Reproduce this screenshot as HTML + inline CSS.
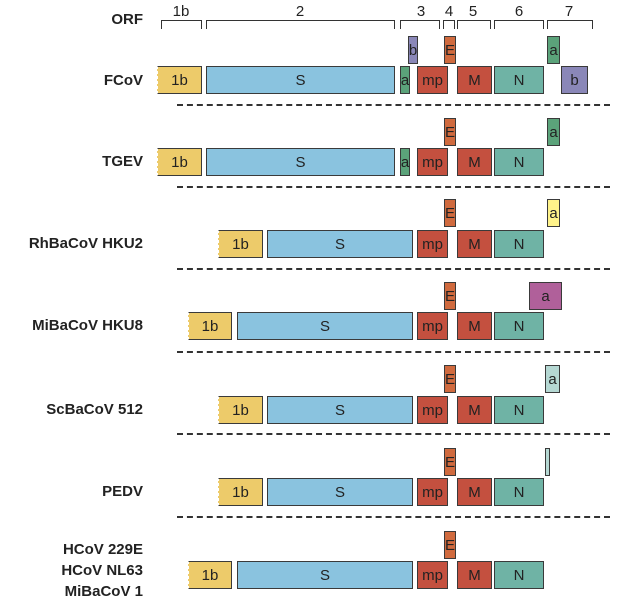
<!DOCTYPE html>
<html><head><meta charset="utf-8"><style>
body{margin:0;width:637px;height:610px;background:#fff;position:relative;overflow:hidden;font-family:"Liberation Sans",Arial,sans-serif}
.b{position:absolute;box-sizing:border-box;border:1.3px solid #3a3a3a;height:28px;font-size:15px;color:#222;display:flex;align-items:center;justify-content:center}
.y{background:#EDCB6A;border-left:1.3px dashed #fff}
.s{background:#8AC3DF}.g{background:#5BA37A}.r{background:#C4503F}.e{background:#D06A3E}.n{background:#6FB3A5}.p{background:#8A87B8}
.l{position:absolute;right:494px;font-weight:bold;font-size:15px;color:#222;text-align:right;white-space:nowrap}
.d{position:absolute;left:177px;width:433px;height:0;border-top:2px dashed #333}
.k{position:absolute;top:20px;height:9px;border:1.6px solid #333;border-bottom:none;box-sizing:border-box}
.t{position:absolute;top:3px;font-size:15px;color:#222;transform:translateX(-50%)}
</style></head><body>
<div class="l" style="top:11px">ORF</div>
<div class="k" style="left:161px;width:41px"></div><div class="t" style="left:181px">1b</div>
<div class="k" style="left:206px;width:189px"></div><div class="t" style="left:300px">2</div>
<div class="k" style="left:400px;width:40px"></div><div class="t" style="left:421px">3</div>
<div class="k" style="left:443px;width:12px"></div><div class="t" style="left:449px">4</div>
<div class="k" style="left:457px;width:34px"></div><div class="t" style="left:473px">5</div>
<div class="k" style="left:494px;width:50px"></div><div class="t" style="left:519px">6</div>
<div class="k" style="left:547px;width:46px"></div><div class="t" style="left:569px">7</div>

<div class="l" style="top:72px">FCoV</div>
<div class="b p" style="left:408px;top:36px;width:10px">b</div>
<div class="b e" style="left:444px;top:36px;width:12px">E</div>
<div class="b g" style="left:547px;top:36px;width:13px">a</div>
<div class="b y" style="left:157px;top:66px;width:45px">1b</div>
<div class="b s" style="left:206px;top:66px;width:189px">S</div>
<div class="b g" style="left:400px;top:66px;width:10px">a</div>
<div class="b r" style="left:417px;top:66px;width:31px">mp</div>
<div class="b r" style="left:457px;top:66px;width:35px">M</div>
<div class="b n" style="left:494px;top:66px;width:50px">N</div>
<div class="b p" style="left:561px;top:66px;width:27px">b</div>
<div class="d" style="top:104px"></div>

<div class="l" style="top:153px">TGEV</div>
<div class="b e" style="left:444px;top:118px;width:12px">E</div>
<div class="b g" style="left:547px;top:118px;width:13px">a</div>
<div class="b y" style="left:157px;top:148px;width:45px">1b</div>
<div class="b s" style="left:206px;top:148px;width:189px">S</div>
<div class="b g" style="left:400px;top:148px;width:10px">a</div>
<div class="b r" style="left:417px;top:148px;width:31px">mp</div>
<div class="b r" style="left:457px;top:148px;width:35px">M</div>
<div class="b n" style="left:494px;top:148px;width:50px">N</div>
<div class="d" style="top:186px"></div>

<div class="l" style="top:235px">RhBaCoV HKU2</div>
<div class="b e" style="left:444px;top:199px;width:12px">E</div>
<div class="b" style="left:547px;top:199px;width:13px;background:#FFF38A">a</div>
<div class="b y" style="left:218px;top:230px;width:45px">1b</div>
<div class="b s" style="left:267px;top:230px;width:146px">S</div>
<div class="b r" style="left:417px;top:230px;width:31px">mp</div>
<div class="b r" style="left:457px;top:230px;width:35px">M</div>
<div class="b n" style="left:494px;top:230px;width:50px">N</div>
<div class="d" style="top:268px"></div>

<div class="l" style="top:317px">MiBaCoV HKU8</div>
<div class="b e" style="left:444px;top:282px;width:12px">E</div>
<div class="b" style="left:529px;top:282px;width:33px;background:#B0609A">a</div>
<div class="b y" style="left:188px;top:312px;width:44px">1b</div>
<div class="b s" style="left:237px;top:312px;width:176px">S</div>
<div class="b r" style="left:417px;top:312px;width:31px">mp</div>
<div class="b r" style="left:457px;top:312px;width:35px">M</div>
<div class="b n" style="left:494px;top:312px;width:50px">N</div>
<div class="d" style="top:351px"></div>

<div class="l" style="top:401px">ScBaCoV 512</div>
<div class="b e" style="left:444px;top:365px;width:12px">E</div>
<div class="b" style="left:545px;top:365px;width:15px;background:#B5D8D3">a</div>
<div class="b y" style="left:218px;top:396px;width:45px">1b</div>
<div class="b s" style="left:267px;top:396px;width:146px">S</div>
<div class="b r" style="left:417px;top:396px;width:31px">mp</div>
<div class="b r" style="left:457px;top:396px;width:35px">M</div>
<div class="b n" style="left:494px;top:396px;width:50px">N</div>
<div class="d" style="top:433px"></div>

<div class="l" style="top:483px">PEDV</div>
<div class="b e" style="left:444px;top:448px;width:12px">E</div>
<div class="b" style="left:545px;top:448px;width:5px;background:#B5D8D3"></div>
<div class="b y" style="left:218px;top:478px;width:45px">1b</div>
<div class="b s" style="left:267px;top:478px;width:146px">S</div>
<div class="b r" style="left:417px;top:478px;width:31px">mp</div>
<div class="b r" style="left:457px;top:478px;width:35px">M</div>
<div class="b n" style="left:494px;top:478px;width:50px">N</div>
<div class="d" style="top:516px"></div>

<div class="l" style="top:539px;line-height:21px">HCoV 229E<br>HCoV NL63<br>MiBaCoV 1</div>
<div class="b e" style="left:444px;top:531px;width:12px">E</div>
<div class="b y" style="left:188px;top:561px;width:44px">1b</div>
<div class="b s" style="left:237px;top:561px;width:176px">S</div>
<div class="b r" style="left:417px;top:561px;width:31px">mp</div>
<div class="b r" style="left:457px;top:561px;width:35px">M</div>
<div class="b n" style="left:494px;top:561px;width:50px">N</div>
</body></html>
